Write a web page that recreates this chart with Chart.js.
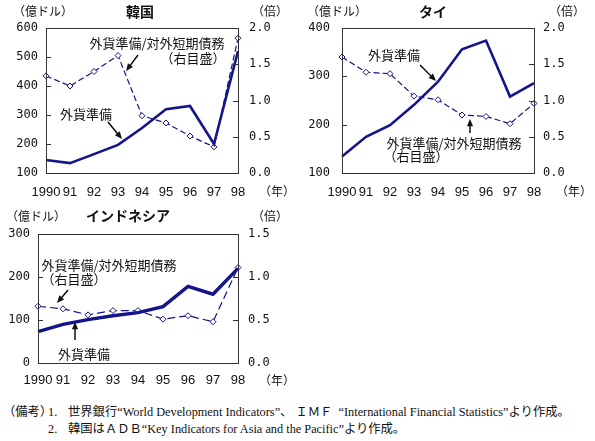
<!DOCTYPE html>
<html>
<head>
<meta charset="utf-8">
<script src="https://cdn.jsdelivr.net/npm/chart.js@4/dist/chart.umd.min.js"></script>
<style>
  body { margin: 0; background: #fff; width: 595px; height: 441px; position: relative; overflow: hidden; }
  canvas { position: absolute; }
  .note { position: absolute; font: 12.3px "Liberation Serif", "Noto Sans CJK JP", serif; color: #111; white-space: nowrap; line-height: 16px; }
</style>
</head>
<body>
<canvas id="korea" style="left:0;top:0" width="295" height="200"></canvas>
<canvas id="thai" style="left:296px;top:0" width="299" height="200"></canvas>
<canvas id="indo" style="left:0;top:200px" width="295" height="195"></canvas>
<div class="note" style="left:3px;top:404px">（備考）</div>
<div class="note" style="left:48px;top:404px">1.</div>
<div class="note" style="left:68px;top:404px">世界銀行“World Development Indicators”、 ＩＭＦ&nbsp;&nbsp;“International Financial Statistics”より作成。</div>
<div class="note" style="left:48px;top:421px">2.</div>
<div class="note" style="left:68px;top:421px">韓国はＡＤＢ“Key Indicators for Asia and the Pacific”より作成。</div>
<script>
const years = ["1990", "91", "92", "93", "94", "95", "96", "97", "98"];

// 外貨準備 (億ドル, left axis) and 外貨準備/対外短期債務 (倍, right axis)
const koreaReserves = [145, 134, 165, 197, 255, 320, 331, 200, 520];
const koreaRatio = [1.34, 1.20, 1.40, 1.62, 0.79, 0.69, 0.51, 0.36, 1.86];

const thaiReserves = [134, 175, 199, 241, 289, 356, 374, 258, 286];
const thaiRatio = [1.60, 1.39, 1.37, 1.06, 1.01, 0.80, 0.78, 0.68, 0.96];

const indoReserves = [73, 90, 101, 110, 117, 131, 178, 160, 220];
const indoRatio = [0.66, 0.63, 0.56, 0.61, 0.61, 0.51, 0.55, 0.48, 1.11];

const NAVY = "#14148c";
const JP = '"Noto Sans CJK JP", sans-serif';

// frame, inward ticks, labels and arrows
const deco = {
  id: "deco",
  afterDraw(chart, args, opts) {
    const ctx = chart.ctx;
    const a = chart.chartArea;
    ctx.save();
    ctx.strokeStyle = "#333";
    ctx.lineWidth = 1;
    ctx.strokeRect(Math.round(a.left) + 0.5, Math.round(a.top) + 0.5,
      Math.round(a.right - a.left), Math.round(a.bottom - a.top));
    ["y", "y1"].forEach(id => {
      const s = chart.scales[id];
      s.ticks.forEach(t => {
        const py = Math.round(s.getPixelForValue(t.value)) + 0.5;
        if (py <= a.top + 1 || py >= a.bottom - 1) return;
        ctx.beginPath();
        if (id === "y") { ctx.moveTo(a.left, py); ctx.lineTo(a.left + 5, py); }
        else { ctx.moveTo(a.right, py); ctx.lineTo(a.right - 5, py); }
        ctx.stroke();
      });
    });
    ctx.fillStyle = "#111";
    ctx.textBaseline = "middle";
    ctx.textAlign = "center";
    (opts.texts || []).forEach(t => {
      ctx.font = (t.bold ? "bold " : "") + (t.size || 13) + "px " + JP;
      ctx.fillText(t.t, t.x, t.y);
    });
    ctx.strokeStyle = "#000";
    ctx.lineWidth = 1.4;
    (opts.arrows || []).forEach(([x1, y1, x2, y2]) => {
      const ang = Math.atan2(y2 - y1, x2 - x1);
      ctx.beginPath();
      ctx.moveTo(x1, y1);
      ctx.lineTo(x2 - 3 * Math.cos(ang), y2 - 3 * Math.sin(ang));
      ctx.stroke();
      ctx.beginPath();
      ctx.moveTo(x2, y2);
      ctx.lineTo(x2 - 8 * Math.cos(ang - 0.4), y2 - 8 * Math.sin(ang - 0.4));
      ctx.lineTo(x2 - 8 * Math.cos(ang + 0.4), y2 - 8 * Math.sin(ang + 0.4));
      ctx.closePath();
      ctx.fill();
    });
    ctx.restore();
  }
};

function makeChart(id, cfg) {
  const tickFont = { family: '"DejaVu Sans Mono", monospace', size: 12 };
  new Chart(document.getElementById(id), {
    type: "line",
    data: {
      labels: years,
      datasets: [
        {
          data: cfg.reserves,
          yAxisID: "y",
          borderColor: NAVY,
          borderWidth: cfg.solidWidth,
          pointRadius: 0,
          tension: 0,
          clip: false
        },
        {
          data: cfg.ratio,
          yAxisID: "y1",
          borderColor: NAVY,
          borderWidth: 1.2,
          borderDash: cfg.dash,
          pointStyle: "rectRot",
          pointRadius: 3,
          pointBackgroundColor: "#fff",
          pointBorderColor: NAVY,
          pointBorderWidth: 1,
          tension: 0,
          clip: false
        }
      ]
    },
    options: {
      responsive: false,
      animation: false,
      layout: { padding: { top: cfg.top, left: 0, right: 0, bottom: 0 } },
      plugins: { legend: { display: false }, tooltip: { enabled: false }, deco: cfg.deco },
      scales: {
        x: {
          type: "category",
          offset: false,
          grid: { display: false, drawTicks: false },
          border: { display: false },
          ticks: { color: "#111", font: { family: '"Liberation Sans", sans-serif', size: 13 }, padding: cfg.xPad, maxRotation: 0, autoSkip: false },
          afterFit: s => { s.height = cfg.xHeight; }
        },
        y: {
          position: "left",
          min: cfg.leftMin, max: cfg.leftMax,
          ticks: { stepSize: cfg.leftStep, color: "#111", font: tickFont, padding: cfg.leftPad },
          grid: { display: false, drawTicks: false },
          border: { display: false },
          afterFit: s => { s.width = cfg.leftWidth; }
        },
        y1: {
          position: "right",
          min: 0, max: cfg.rightMax,
          ticks: { stepSize: 0.5, color: "#111", font: tickFont, padding: cfg.rightPad, callback: v => v.toFixed(1) },
          grid: { display: false, drawTicks: false },
          border: { display: false },
          afterFit: s => { s.width = cfg.rightWidth; }
        }
      }
    },
    plugins: [deco]
  });
}

makeChart("korea", {
  reserves: koreaReserves, ratio: koreaRatio,
  solidWidth: 2.6, dash: [6, 3],
  top: 28, xHeight: 27, xPad: 12,
  leftMin: 100, leftMax: 600, leftStep: 100, leftWidth: 46, leftPad: 8,
  rightMax: 2.0, rightWidth: 57, rightPad: 11,
  deco: {
    texts: [
      { t: "（億ドル）", x: 43, y: 11, size: 12 },
      { t: "韓国", x: 140, y: 12, size: 14, bold: true },
      { t: "（倍）", x: 270, y: 11, size: 12 },
      { t: "（年）", x: 277, y: 191, size: 12 },
      { t: "外貨準備/対外短期債務", x: 157, y: 43 },
      { t: "（右目盛）", x: 193, y: 58 },
      { t: "外貨準備", x: 86, y: 114 }
    ],
    arrows: [[138, 55, 126, 71], [108, 122, 122, 139]]
  }
});

makeChart("thai", {
  reserves: thaiReserves, ratio: thaiRatio,
  solidWidth: 2.6, dash: [6, 3],
  top: 28, xHeight: 27, xPad: 12,
  leftMin: 100, leftMax: 400, leftStep: 100, leftWidth: 46, leftPad: 12,
  rightMax: 2.0, rightWidth: 61, rightPad: 9,
  deco: {
    texts: [
      { t: "（億ドル）", x: 41, y: 11, size: 12 },
      { t: "タイ", x: 137, y: 12, size: 14, bold: true },
      { t: "（倍）", x: 271, y: 11, size: 12 },
      { t: "（年）", x: 278, y: 191, size: 12 },
      { t: "外貨準備", x: 98, y: 55 },
      { t: "外貨準備/対外短期債務", x: 158, y: 143 },
      { t: "（右目盛）", x: 120, y: 156 }
    ],
    arrows: [[124, 65, 140, 81], [174, 133, 174, 119]]
  }
});

makeChart("indo", {
  reserves: indoReserves, ratio: indoRatio,
  solidWidth: 3.4, dash: [8, 4],
  top: 34, xHeight: 32, xPad: 10,
  leftMin: 0, leftMax: 300, leftStep: 100, leftWidth: 38, leftPad: 8,
  rightMax: 1.5, rightWidth: 57, rightPad: 10,
  deco: {
    texts: [
      { t: "（億ドル）", x: 36, y: 16, size: 12 },
      { t: "インドネシア", x: 128, y: 16, size: 14, bold: true },
      { t: "（倍）", x: 270, y: 16, size: 12 },
      { t: "（年）", x: 277, y: 180, size: 12 },
      { t: "外貨準備/対外短期債務", x: 109, y: 65 },
      { t: "（右目盛）", x: 74, y: 79 },
      { t: "外貨準備", x: 84, y: 154 }
    ],
    arrows: [[68, 90, 57, 103], [75, 140, 75, 122]]
  }
});
</script>
</body>
</html>
